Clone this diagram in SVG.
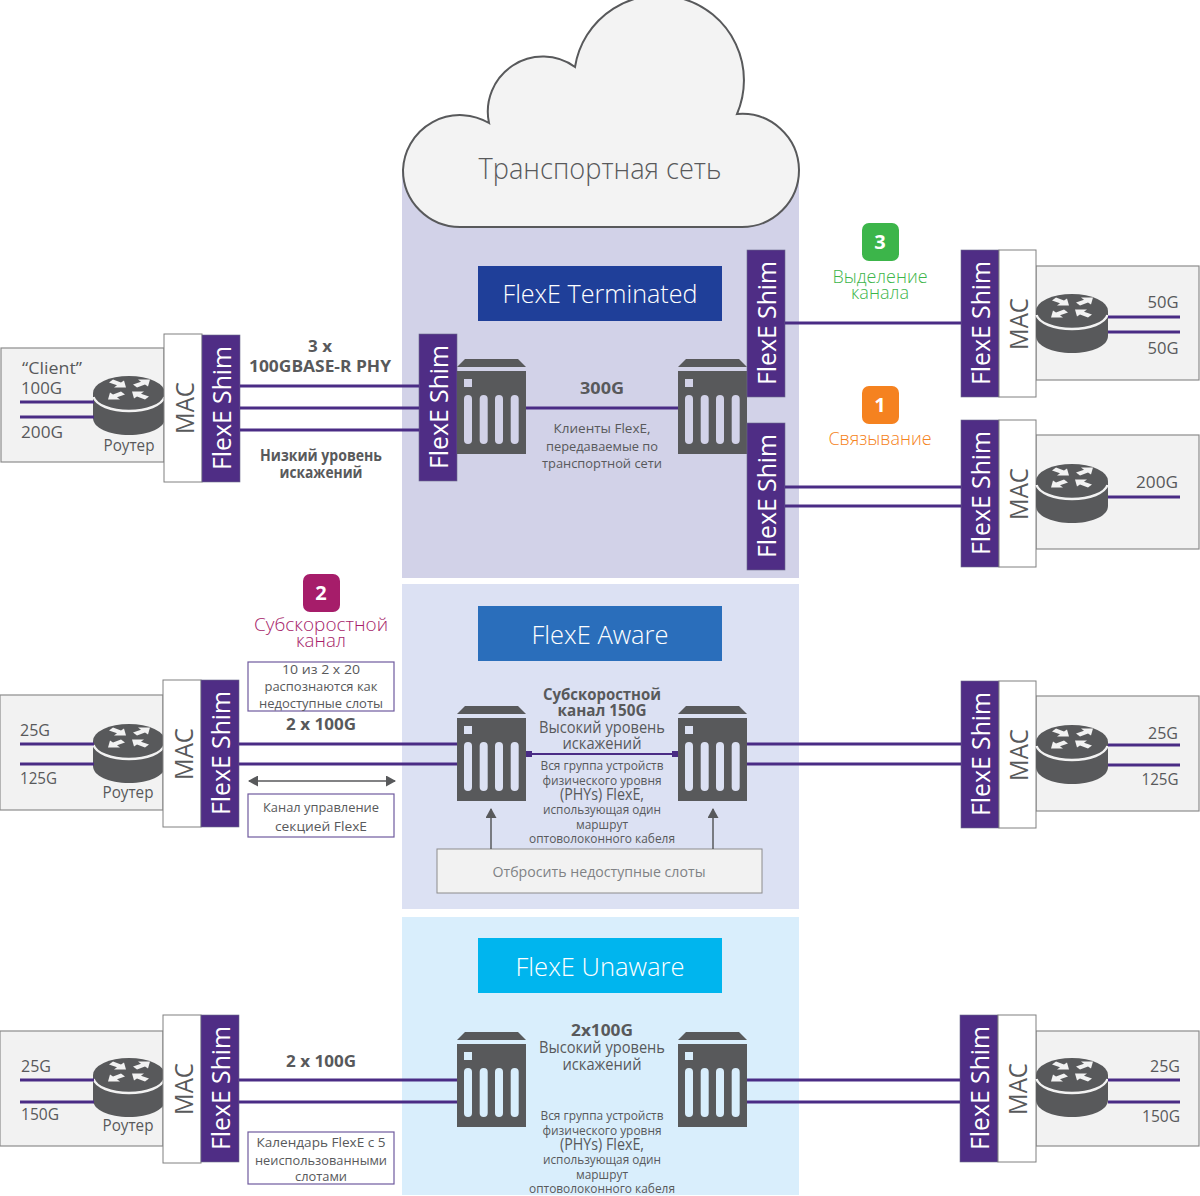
<svg xmlns="http://www.w3.org/2000/svg" width="1200" height="1196" viewBox="0 0 1200 1196">
<style>
text{font-family:"Open Sans","Noto Sans","Liberation Sans",sans-serif;fill:#58595b;text-anchor:middle}
.b{font-weight:700}
.l{text-anchor:start}
.shimt{fill:#fff;font-size:26px}
.mact{font-size:26px;fill:#58595b}
.shim{fill:#4f2d85;stroke:#6b6b8a;stroke-width:.6}
.mac{fill:#fff;stroke:#808080;stroke-width:1}
.gray{fill:#f2f2f2;stroke:#8c8c8c;stroke-width:1.2}
.ln{stroke:#4a2c85;stroke-width:3;fill:none}
.lab{fill:#fff;stroke:#6f5a9e;stroke-width:1.2}
.title{fill:#fff;font-size:25px;font-weight:300}
.s16{font-size:15.500px}.s14{font-size:13px}
.col{font-weight:300}
.dk{fill:#58595b}
.ar{stroke:#58595b;stroke-width:1.500;fill:none}
</style>
<defs>
<polygon id="arw" points="18,0 6,0 9,2.200 1,5 5,8 13,5 16,7"/>
<g id="router">
<path class="dk" d="M0 17V42C0 52 16 59 36 59S72 52 72 42V17Z"/>
<ellipse class="dk" cx="36" cy="17" rx="36" ry="17"/>
<path d="M0.500 21C3 29 18 35 36 35S69 29 71.500 21" fill="none" stroke="#f2f2f2" stroke-width="2.500"/>
<g fill="#f2f2f2">
<use href="#arw" transform="translate(39 3.500)"/>
<use href="#arw" transform="translate(15 11.500) scale(1 -1)"/>
<use href="#arw" transform="translate(33 23.500) rotate(180)"/>
<use href="#arw" transform="translate(57 15.500) scale(-1 1)"/>
</g>
</g>
<g id="server">
<polygon class="dk" points="0,8 8,0 61,0 69,8"/>
<rect class="dk" y="12" width="69" height="83"/>
<g fill="currentColor">
<rect x="7" y="20" width="8" height="8"/>
<rect x="7" y="36" width="8" height="49" rx="4"/>
<rect x="22.700" y="36" width="8" height="49" rx="4"/>
<rect x="38" y="36" width="8" height="49" rx="4"/>
<rect x="53.700" y="36" width="8" height="49" rx="4"/>
</g>
</g>
<g id="shimbar"><rect class="shim" width="38" height="147"/><text class="shimt" transform="translate(29 135) rotate(-90)" textLength="124" lengthAdjust="spacingAndGlyphs" style="text-anchor:start">FlexE Shim</text></g>
<marker id="ah" markerWidth="11" markerHeight="11" refX="9" refY="5.500" orient="auto-start-reverse" markerUnits="userSpaceOnUse"><path d="M0 0L10 5.500L0 11Z" fill="#58595b"/></marker>
</defs>

<g id="zones">
<rect x="402" y="170" width="397" height="408" fill="#d2d2e8"/>
<rect x="402" y="584" width="397" height="325" fill="#dce1f3"/>
<rect x="402" y="917" width="397" height="278" fill="#d9eefc"/>
</g>

<g id="cloud">
<path d="M460 227H742A57 57 0 0 0 799 170A57 57 0 0 0 737 114A85 85 0 1 0 575 67A55 55 0 0 0 489 123A57 57 0 0 0 403 170A57 57 0 0 0 460 227Z" fill="#f3f3f3" stroke="#58595b" stroke-width="2"/>
<text x="600" y="179" font-size="30" style="font-weight:300" textLength="243" lengthAdjust="spacingAndGlyphs">Транспортная сеть</text>
</g>

<g id="title-terminated"><rect x="478" y="266" width="244" height="55" fill="#1f3f99"/><text class="title" x="600" y="303" textLength="195" lengthAdjust="spacingAndGlyphs">FlexE Terminated</text></g>
<g id="title-aware"><rect x="478" y="606" width="244" height="55" fill="#2a6ebb"/><text class="title" x="600" y="644" textLength="137" lengthAdjust="spacingAndGlyphs">FlexE Aware</text></g>
<g id="title-unaware"><rect x="478" y="938" width="244" height="55" fill="#00b5ee"/><text class="title" x="600" y="976" textLength="169" lengthAdjust="spacingAndGlyphs">FlexE Unaware</text></g>

<g id="node-left-1">
<rect class="gray" x="1" y="348" width="163" height="114"/>
<use href="#router" x="93" y="376"/>
<rect class="mac" x="164" y="334" width="38" height="148"/>
<text class="mact" transform="translate(194 408) rotate(-90)" textLength="52" lengthAdjust="spacingAndGlyphs">MAC</text>
<use href="#shimbar" x="202" y="335"/>
<text class="l s16" x="22" y="374" textLength="60" lengthAdjust="spacingAndGlyphs">“Client”</text>
<text class="l s16" x="21" y="394" textLength="41" lengthAdjust="spacingAndGlyphs">100G</text>
<text class="l s16" x="21" y="438" textLength="42" lengthAdjust="spacingAndGlyphs">200G</text>
<text class="s16" x="129" y="451" textLength="51" lengthAdjust="spacingAndGlyphs">Роутер</text>
</g>

<g id="shim-center"><use href="#shimbar" x="419" y="334"/></g>
<g id="server-t1"><use href="#server" x="457" y="359" color="#d2d2e8"/></g>
<g id="server-t2"><use href="#server" x="678" y="359" color="#d2d2e8"/></g>
<g id="shim-r1"><use href="#shimbar" x="747" y="250"/></g>
<g id="shim-r2"><use href="#shimbar" x="747" y="423"/></g>

<g id="labels-terminated">
<text class="b s16" x="320" y="352" textLength="24" lengthAdjust="spacingAndGlyphs">3 x</text>
<text class="b s16" x="320" y="372" textLength="142" lengthAdjust="spacingAndGlyphs">100GBASE-R PHY</text>
<text class="b s16" x="321" y="461" textLength="122" lengthAdjust="spacingAndGlyphs">Низкий уровень</text>
<text class="b s16" x="321" y="478" textLength="83" lengthAdjust="spacingAndGlyphs">искажений</text>
<text class="b s16" x="602" y="394" textLength="44" lengthAdjust="spacingAndGlyphs">300G</text>
<text class="s14" x="602" y="433" textLength="97" lengthAdjust="spacingAndGlyphs">Клиенты FlexE,</text>
<text class="s14" x="602" y="451" textLength="112" lengthAdjust="spacingAndGlyphs">передаваемые по</text>
<text class="s14" x="602" y="468" textLength="120" lengthAdjust="spacingAndGlyphs">транспортной сети</text>
</g>

<g id="badge-3"><rect x="862" y="223" width="37" height="38" rx="7" fill="#3cb54a"/><text class="b" x="880" y="249" font-size="20" style="fill:#fff">3</text></g>
<text class="col" x="880" y="283" font-size="18" style="fill:#3cb54a" textLength="95" lengthAdjust="spacingAndGlyphs">Выделение</text>
<text class="col" x="880" y="299" font-size="18" style="fill:#3cb54a" textLength="58" lengthAdjust="spacingAndGlyphs">канала</text>
<g id="badge-1"><rect x="862" y="386" width="37" height="38" rx="7" fill="#f58220"/><text class="b" x="880" y="412" font-size="20" style="fill:#fff">1</text></g>
<text class="col" x="880" y="445" font-size="18" style="fill:#f58220" textLength="103" lengthAdjust="spacingAndGlyphs">Связывание</text>
<g id="badge-2"><rect x="303" y="574" width="37" height="38" rx="7" fill="#a61d6a"/><text class="b" x="321" y="600" font-size="20" style="fill:#fff">2</text></g>
<text class="col" x="321" y="631" font-size="19" style="fill:#a61d6a" textLength="134" lengthAdjust="spacingAndGlyphs">Субскоростной</text>
<text class="col" x="321" y="647" font-size="19" style="fill:#a61d6a" textLength="50" lengthAdjust="spacingAndGlyphs">канал</text>

<g id="node-right-1">
<rect class="gray" x="1036" y="266" width="163" height="114"/>
<use href="#shimbar" x="961" y="250"/>
<rect class="mac" x="999" y="250" width="37" height="147"/>
<text class="mact" transform="translate(1028 324) rotate(-90)" textLength="52" lengthAdjust="spacingAndGlyphs">MAC</text>
<use href="#router" x="1036" y="294"/>
<text class="s16" x="1163" y="308" textLength="31" lengthAdjust="spacingAndGlyphs">50G</text>
<text class="s16" x="1163" y="354" textLength="31" lengthAdjust="spacingAndGlyphs">50G</text>
</g>
<g id="node-right-2">
<rect class="gray" x="1036" y="435" width="163" height="114"/>
<use href="#shimbar" x="961" y="420"/>
<rect class="mac" x="999" y="420" width="37" height="147"/>
<text class="mact" transform="translate(1028 494) rotate(-90)" textLength="52" lengthAdjust="spacingAndGlyphs">MAC</text>
<use href="#router" x="1036" y="464"/>
<text class="s16" x="1157" y="488" textLength="42" lengthAdjust="spacingAndGlyphs">200G</text>
</g>

<g id="node-left-2">
<rect class="gray" x="0" y="695" width="163" height="115"/>
<use href="#router" x="93" y="724"/>
<rect class="mac" x="163" y="680" width="38" height="147"/>
<text class="mact" transform="translate(193 754) rotate(-90)" textLength="52" lengthAdjust="spacingAndGlyphs">MAC</text>
<use href="#shimbar" x="201" y="680"/>
<text class="l s16" x="20" y="736" textLength="30" lengthAdjust="spacingAndGlyphs">25G</text>
<text class="l s16" x="20" y="784" textLength="37" lengthAdjust="spacingAndGlyphs">125G</text>
<text class="s16" x="128" y="798" textLength="51" lengthAdjust="spacingAndGlyphs">Роутер</text>
</g>
<g id="server-a1"><use href="#server" x="457" y="706" color="#dce1f3"/></g>
<g id="server-a2"><use href="#server" x="678" y="706" color="#dce1f3"/></g>
<g id="node-right-3">
<rect class="gray" x="1036" y="696" width="163" height="115"/>
<use href="#shimbar" x="961" y="681"/>
<rect class="mac" x="999" y="681" width="37" height="147"/>
<text class="mact" transform="translate(1028 755) rotate(-90)" textLength="52" lengthAdjust="spacingAndGlyphs">MAC</text>
<use href="#router" x="1036" y="725"/>
<text class="s16" x="1163" y="739" textLength="30" lengthAdjust="spacingAndGlyphs">25G</text>
<text class="s16" x="1160" y="785" textLength="37" lengthAdjust="spacingAndGlyphs">125G</text>
</g>
<g id="labels-aware">
<rect class="lab" x="248" y="662" width="146" height="49"/>
<text class="s14" x="321" y="674" textLength="78" lengthAdjust="spacingAndGlyphs">10 из 2 x 20</text>
<text class="s14" x="321" y="691" textLength="113" lengthAdjust="spacingAndGlyphs">распознаются как</text>
<text class="s14" x="321" y="708" textLength="124" lengthAdjust="spacingAndGlyphs">недоступные слоты</text>
<text class="b s16" x="321" y="730" textLength="70" lengthAdjust="spacingAndGlyphs">2 x 100G</text>
<rect class="lab" x="248" y="794" width="146" height="43"/>
<text class="s14" x="321" y="812" textLength="116" lengthAdjust="spacingAndGlyphs">Канал управление</text>
<text class="s14" x="321" y="831" textLength="92" lengthAdjust="spacingAndGlyphs">секцией FlexE</text>
<text class="b s16" x="602" y="700" textLength="118" lengthAdjust="spacingAndGlyphs">Субскоростной</text>
<text class="b s16" x="602" y="716" textLength="89" lengthAdjust="spacingAndGlyphs">канал 150G</text>
<text class="s16" x="602" y="733" textLength="126" lengthAdjust="spacingAndGlyphs">Высокий уровень</text>
<text class="s16" x="602" y="749" textLength="79" lengthAdjust="spacingAndGlyphs">искажений</text>
<text class="s14" x="602" y="770" textLength="123" lengthAdjust="spacingAndGlyphs">Вся группа устройств</text>
<text class="s14" x="602" y="785" textLength="119" lengthAdjust="spacingAndGlyphs">физического уровня</text>
<text class="s16" x="602" y="800" textLength="84" lengthAdjust="spacingAndGlyphs">(PHYs) FlexE,</text>
<text class="s14" x="602" y="814" textLength="118" lengthAdjust="spacingAndGlyphs">использующая один</text>
<text class="s14" x="602" y="829" textLength="52" lengthAdjust="spacingAndGlyphs">маршрут</text>
<text class="s14" x="602" y="843" textLength="146" lengthAdjust="spacingAndGlyphs">оптоволоконного кабеля</text>
</g>
<g id="node-discard">
<rect x="437" y="849" width="325" height="44" fill="#f2f2f2" stroke="#8c8c8c" stroke-width="1"/>
<text x="599" y="877" font-size="15" style="fill:#808285" textLength="213" lengthAdjust="spacingAndGlyphs">Отбросить недоступные слоты</text>
</g>

<g id="node-left-3">
<rect class="gray" x="0" y="1031" width="163" height="115"/>
<use href="#router" x="93" y="1058"/>
<rect class="mac" x="163" y="1015" width="38" height="148"/>
<text class="mact" transform="translate(193 1089) rotate(-90)" textLength="52" lengthAdjust="spacingAndGlyphs">MAC</text>
<use href="#shimbar" x="201" y="1015"/>
<text class="l s16" x="21" y="1072" textLength="30" lengthAdjust="spacingAndGlyphs">25G</text>
<text class="l s16" x="21" y="1120" textLength="38" lengthAdjust="spacingAndGlyphs">150G</text>
<text class="s16" x="128" y="1131" textLength="51" lengthAdjust="spacingAndGlyphs">Роутер</text>
</g>
<g id="server-u1"><use href="#server" x="457" y="1032" color="#d9eefc"/></g>
<g id="server-u2"><use href="#server" x="678" y="1032" color="#d9eefc"/></g>
<g id="node-right-4">
<rect class="gray" x="1036" y="1031" width="163" height="115"/>
<use href="#shimbar" x="960" y="1015"/>
<rect class="mac" x="998" y="1015" width="38" height="147"/>
<text class="mact" transform="translate(1027 1089) rotate(-90)" textLength="52" lengthAdjust="spacingAndGlyphs">MAC</text>
<use href="#router" x="1036" y="1058"/>
<text class="s16" x="1165" y="1072" textLength="30" lengthAdjust="spacingAndGlyphs">25G</text>
<text class="s16" x="1161" y="1122" textLength="38" lengthAdjust="spacingAndGlyphs">150G</text>
</g>
<g id="labels-unaware">
<text class="b s16" x="321" y="1067" textLength="70" lengthAdjust="spacingAndGlyphs">2 x 100G</text>
<rect class="lab" x="248" y="1132" width="146" height="52"/>
<text class="s14" x="321" y="1147" textLength="129" lengthAdjust="spacingAndGlyphs">Календарь FlexE с 5</text>
<text class="s14" x="321" y="1165" textLength="132" lengthAdjust="spacingAndGlyphs">неиспользованными</text>
<text class="s14" x="321" y="1181" textLength="52" lengthAdjust="spacingAndGlyphs">слотами</text>
<text class="b s16" x="602" y="1036" textLength="62" lengthAdjust="spacingAndGlyphs">2x100G</text>
<text class="s16" x="602" y="1053" textLength="126" lengthAdjust="spacingAndGlyphs">Высокий уровень</text>
<text class="s16" x="602" y="1070" textLength="79" lengthAdjust="spacingAndGlyphs">искажений</text>
<text class="s14" x="602" y="1120" textLength="123" lengthAdjust="spacingAndGlyphs">Вся группа устройств</text>
<text class="s14" x="602" y="1135" textLength="119" lengthAdjust="spacingAndGlyphs">физического уровня</text>
<text class="s16" x="602" y="1150" textLength="84" lengthAdjust="spacingAndGlyphs">(PHYs) FlexE,</text>
<text class="s14" x="602" y="1164" textLength="118" lengthAdjust="spacingAndGlyphs">использующая один</text>
<text class="s14" x="602" y="1179" textLength="52" lengthAdjust="spacingAndGlyphs">маршрут</text>
<text class="s14" x="602" y="1193" textLength="146" lengthAdjust="spacingAndGlyphs">оптоволоконного кабеля</text>
</g>

<g id="connectors">
<path class="ln" d="M20 402H94M20 417H94"/>
<path class="ln" d="M240 386H419M240 408H419M240 430H419"/>
<path class="ln" d="M526 408H678"/>
<path class="ln" d="M785 323H961M785 487H961M785 506H961"/>
<path class="ln" d="M1108 317H1180M1108 332H1180M1108 497H1180"/>
<path class="ln" d="M20 744H94M20 764H94M239 744H457M239 764H457"/>
<path class="ln" d="M747 744H961M747 764H961"/>
<path d="M526 754H678" stroke="#4a2c85" stroke-width="2"/>
<path fill="#4a2c85" d="M526 751h6v6h-6zM672 751h6v6h-6z"/>
<path class="ln" d="M1108 745H1180M1108 765H1180"/>
<path class="ln" d="M20 1080H94M20 1102H94M239 1080H457M239 1102H457"/>
<path class="ln" d="M747 1080H960M747 1102H960"/>
<path class="ln" d="M1108 1080H1180M1108 1102H1180"/>
<path class="ar" d="M249 781H395" marker-start="url(#ah)" marker-end="url(#ah)"/>
<path class="ar" d="M491 849V809" marker-end="url(#ah)"/>
<path class="ar" d="M713 849V809" marker-end="url(#ah)"/>
</g>
</svg>
